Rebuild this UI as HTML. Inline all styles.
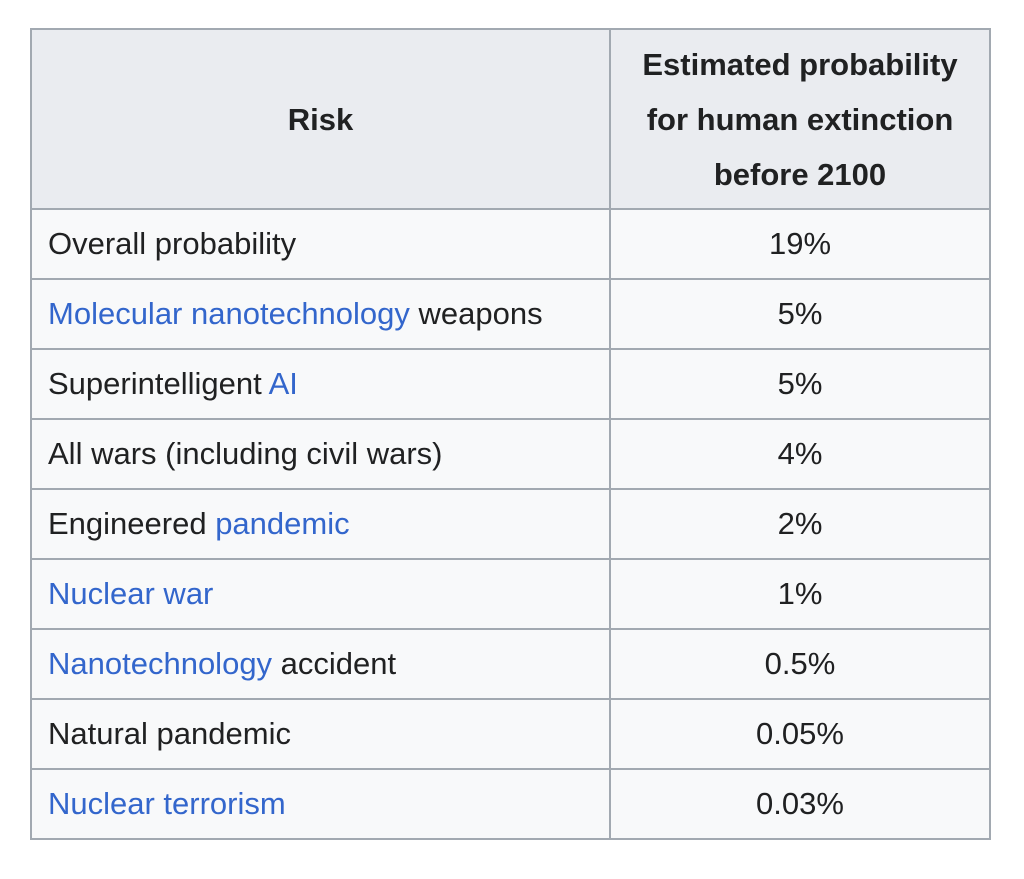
<!DOCTYPE html>
<html><head><meta charset="utf-8"><style>
body{margin:0;width:1024px;height:879px;background:#fff;font-family:"Liberation Sans",Arial,sans-serif;color:#202122;position:relative;overflow:hidden}
table{position:absolute;left:30px;top:28px;border-collapse:collapse;font-size:31px;table-layout:fixed}
td,th{border:2px solid #a2a9b1;padding:0 0 0 16px;height:68px;background:#f8f9fa;white-space:nowrap}
th{background:#eaecf0;font-weight:bold;text-align:center;height:178px;line-height:55px;padding:0}
td.v{text-align:center;padding:0}
a{color:#3366cc;text-decoration:none}
</style></head><body>
<table>
<colgroup><col style="width:579px"><col style="width:380px"></colgroup>
<tr><th>Risk</th><th>Estimated probability<br>for human extinction<br>before 2100</th></tr>
<tr><td>Overall probability</td><td class="v">19%</td></tr>
<tr><td><a href="#">Molecular nanotechnology</a> weapons</td><td class="v">5%</td></tr>
<tr><td>Superintelligent <a href="#">AI</a></td><td class="v">5%</td></tr>
<tr><td>All wars (including civil wars)</td><td class="v">4%</td></tr>
<tr><td>Engineered <a href="#">pandemic</a></td><td class="v">2%</td></tr>
<tr><td><a href="#">Nuclear war</a></td><td class="v">1%</td></tr>
<tr><td><a href="#">Nanotechnology</a> accident</td><td class="v">0.5%</td></tr>
<tr><td>Natural pandemic</td><td class="v">0.05%</td></tr>
<tr><td><a href="#">Nuclear terrorism</a></td><td class="v">0.03%</td></tr>
</table>
</body></html>
